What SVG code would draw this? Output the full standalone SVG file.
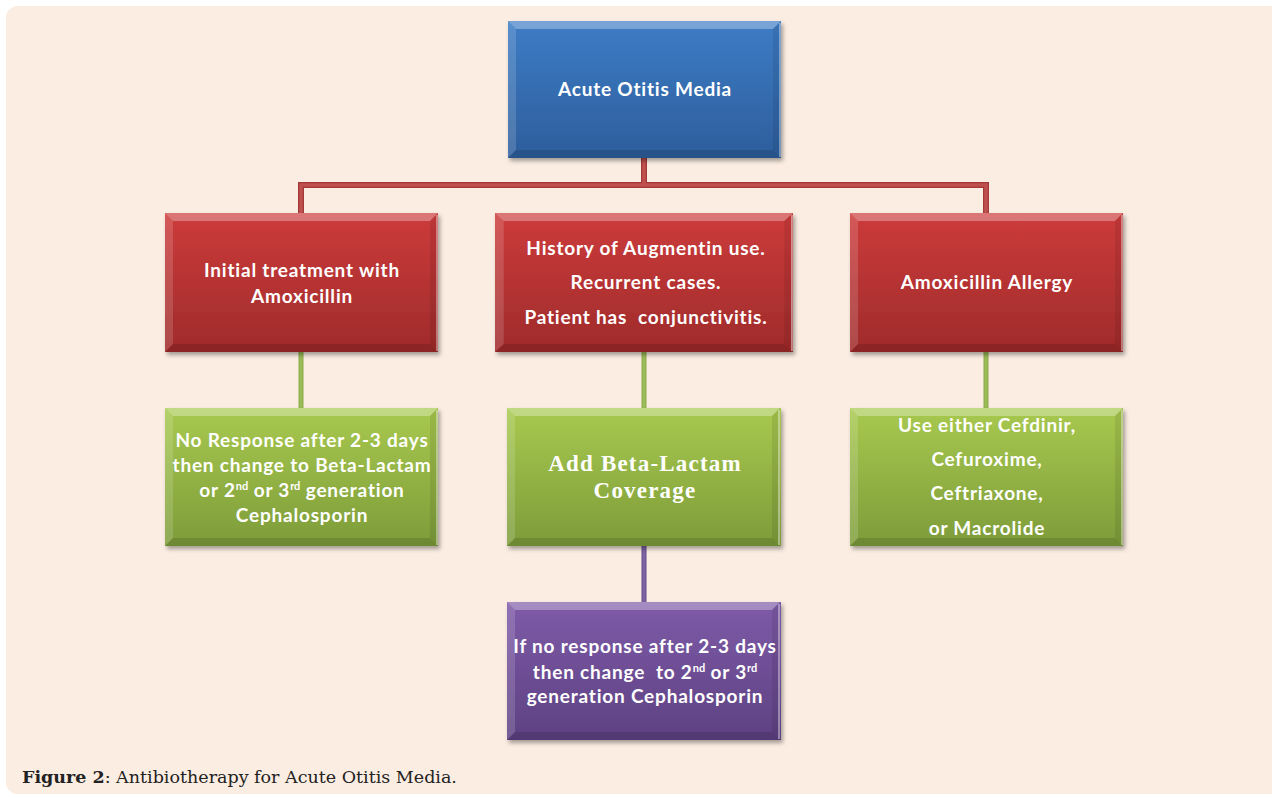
<svg xmlns="http://www.w3.org/2000/svg" width="1272" height="798" viewBox="0 0 1272 798">
<defs>
<linearGradient id="gBlue" x1="0" y1="0" x2="0" y2="1"><stop offset="0" stop-color="#3d7cc5"/><stop offset="1" stop-color="#2d5e9c"/></linearGradient>
<linearGradient id="gRed" x1="0" y1="0" x2="0" y2="1"><stop offset="0" stop-color="#cd3b3b"/><stop offset="1" stop-color="#9f2b2b"/></linearGradient>
<linearGradient id="gGreen" x1="0" y1="0" x2="0" y2="1"><stop offset="0" stop-color="#a8c94f"/><stop offset="1" stop-color="#7d9c3a"/></linearGradient>
<linearGradient id="gPurple" x1="0" y1="0" x2="0" y2="1"><stop offset="0" stop-color="#7e5ba8"/><stop offset="1" stop-color="#5d4182"/></linearGradient>
<filter id="sh" x="-10%" y="-10%" width="125%" height="130%"><feDropShadow dx="2" dy="3" stdDeviation="2" flood-color="#000" flood-opacity="0.35"/></filter>
<g id="bev">
<polygon points="0,0 273,0 265,8 8,8" fill="#fff" opacity="0.3"/>
<polygon points="0,0 8,8 8,130 0,138" fill="#fff" opacity="0.15"/>
<polygon points="273,0 273,138 265,130 265,8" fill="#000" opacity="0.08"/>
<polygon points="0,138 8,130 265,130 273,138" fill="#000" opacity="0.12"/>
<line x1="272" y1="2" x2="272" y2="137" stroke="#fff" stroke-opacity="0.5" stroke-width="1.5"/>
</g>
</defs>
<style>
.t{font-family:Lato,"Open Sans",sans-serif;font-weight:bold;font-size:19px;letter-spacing:0.8px;fill:#fff;text-anchor:middle}
.s{font-family:"Liberation Serif","DejaVu Serif",serif;font-weight:bold;font-size:23px;letter-spacing:1.2px;fill:#fff;text-anchor:middle}
.sup{font-size:11px;letter-spacing:0}
.cap{font-family:"DejaVu Serif","Liberation Serif",serif;font-size:17.5px;fill:#222}
</style>
<rect x="0" y="0" width="1272" height="798" fill="#fff"/>
<rect x="6" y="6" width="1280" height="788" rx="12" fill="#fbede2"/>
<g id="connectors" fill="none" stroke-linecap="square">
<path d="M644,157 V185 M301,213 V185 H986 V213" stroke="#a23838" stroke-width="6"/>
<path d="M644,157 V185 M301,213 V185 H986 V213" stroke="#c0504d" stroke-width="3.5"/>
<path d="M301,352 V408 M644,352 V408 M986,352 V408" stroke="#8aab48" stroke-width="5"/>
<path d="M301,352 V408 M644,352 V408 M986,352 V408" stroke="#9bbb59" stroke-width="3"/>
<path d="M644,546 V602" stroke="#654a8a" stroke-width="5"/>
<path d="M644,546 V602" stroke="#8064a2" stroke-width="3"/>
</g>
<g id="n-aom">
<rect x="508" y="21" width="273" height="137" fill="url(#gBlue)" filter="url(#sh)"/>
<use href="#bev" transform="translate(508,21) scale(1,0.993)"/>
<text class="t" x="645" y="96">Acute Otitis Media</text>
</g>
<g id="n-initial">
<rect x="165" y="213" width="273" height="139" fill="url(#gRed)" filter="url(#sh)"/>
<use href="#bev" transform="translate(165,213) scale(1,1.007)"/>
<text class="t" x="302" y="277">Initial treatment with</text>
<text class="t" x="302" y="303">Amoxicillin</text>
</g>
<g id="n-history">
<rect x="495" y="213" width="298" height="139" fill="url(#gRed)" filter="url(#sh)"/>
<use href="#bev" transform="translate(495,213) scale(1.0916,1.007)"/>
<text class="t" x="646" y="255">History of Augmentin use.</text>
<text class="t" x="646" y="289">Recurrent cases.</text>
<text class="t" x="646" y="324" xml:space="preserve">Patient has  conjunctivitis.</text>
</g>
<g id="n-allergy">
<rect x="850" y="213" width="273" height="139" fill="url(#gRed)" filter="url(#sh)"/>
<use href="#bev" transform="translate(850,213) scale(1,1.007)"/>
<text class="t" x="987" y="289">Amoxicillin Allergy</text>
</g>
<g id="n-noresp">
<rect x="165" y="408" width="273" height="138" fill="url(#gGreen)" filter="url(#sh)"/>
<use href="#bev" transform="translate(165,408)"/>
<text class="t" x="302" y="447">No Response after 2-3 days</text>
<text class="t" x="302" y="472">then change to Beta-Lactam</text>
<text class="t" x="302" y="497">or 2<tspan class="sup" dy="-7">nd</tspan><tspan dy="7"> or 3</tspan><tspan class="sup" dy="-7">rd</tspan><tspan dy="7"> generation</tspan></text>
<text class="t" x="302" y="522">Cephalosporin</text>
</g>
<g id="n-addbeta">
<rect x="507" y="408" width="274" height="138" fill="url(#gGreen)" filter="url(#sh)"/>
<use href="#bev" transform="translate(507,408)"/>
<text class="s" x="645" y="471">Add Beta-Lactam</text>
<text class="s" x="645" y="498">Coverage</text>
</g>
<g id="n-use">
<rect x="850" y="408" width="273" height="138" fill="url(#gGreen)" filter="url(#sh)"/>
<use href="#bev" transform="translate(850,408)"/>
<text class="t" x="987" y="432">Use either Cefdinir,</text>
<text class="t" x="987" y="466">Cefuroxime,</text>
<text class="t" x="987" y="500">Ceftriaxone,</text>
<text class="t" x="987" y="535">or Macrolide</text>
</g>
<g id="n-ifno">
<rect x="507" y="602" width="274" height="138" fill="url(#gPurple)" filter="url(#sh)"/>
<use href="#bev" transform="translate(507,602)"/>
<text class="t" x="645" y="653">If no response after 2-3 days</text>
<text class="t" x="645" y="679" xml:space="preserve">then change  to 2<tspan class="sup" dy="-7">nd</tspan><tspan dy="7"> or 3</tspan><tspan class="sup" dy="-7">rd</tspan></text>
<text class="t" x="645" y="703">generation Cephalosporin</text>
</g>
<text class="cap" x="22" y="783"><tspan font-weight="bold">Figure 2</tspan>: Antibiotherapy for Acute Otitis Media.</text>
</svg>
